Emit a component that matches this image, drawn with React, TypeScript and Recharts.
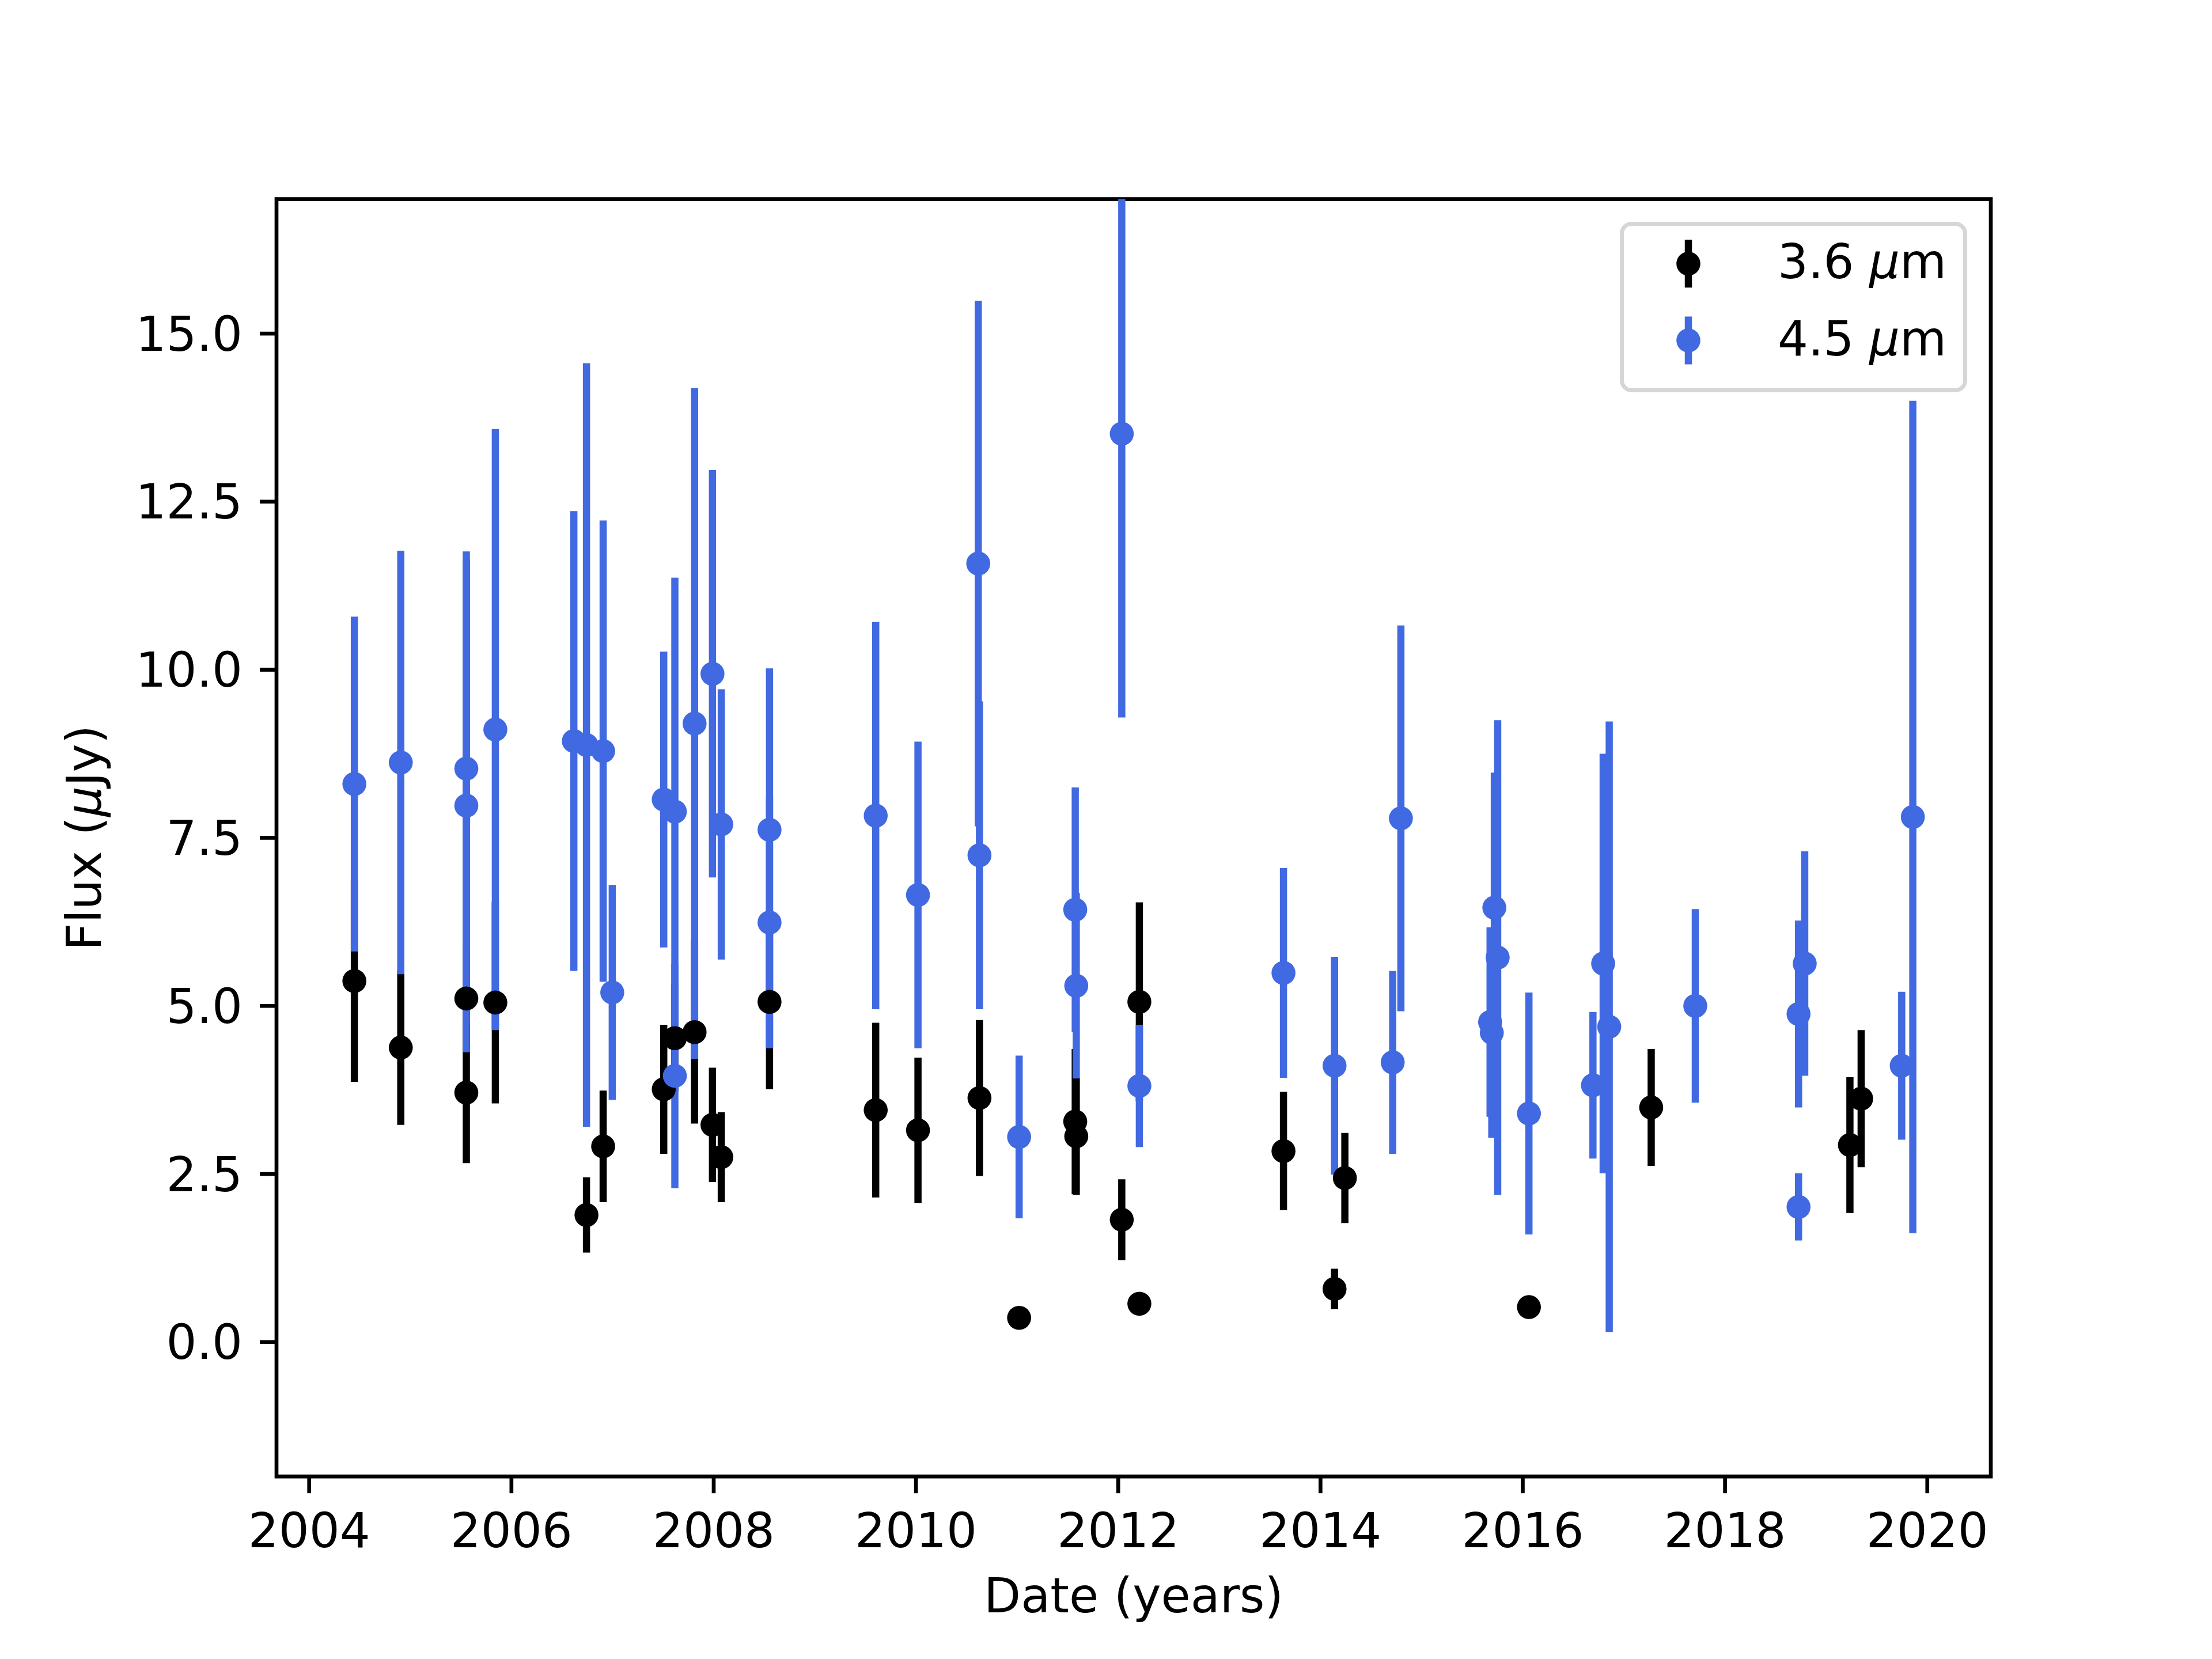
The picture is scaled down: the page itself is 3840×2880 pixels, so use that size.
import { ScatterChart, Scatter, XAxis, YAxis, ErrorBar, Legend, ReferenceArea } from "recharts"

// IRAC 3.6 um photometry (decimal year, flux in uJy, 1-sigma error)
const band1Dates = [
  2004.447, 2004.906, 2005.554, 2005.554, 2005.841, 2006.742, 2006.907, 2007.506, 2007.616, 2007.811,
  2007.988, 2008.075, 2008.552, 2009.602, 2010.02, 2010.628, 2011.02, 2011.575, 2011.585, 2012.035,
  2012.209, 2012.209, 2013.634, 2014.139, 2014.241, 2016.061, 2017.27, 2019.235, 2019.346,
]
const band1Flux = [
  5.37, 4.38, 5.11, 3.71, 5.05, 1.89, 2.91, 3.76, 4.52, 4.61,
  3.23, 2.75, 5.06, 3.45, 3.15, 3.63, 0.36, 3.28, 3.06, 1.82,
  5.06, 0.57, 2.84, 0.79, 2.44, 0.52, 3.49, 2.93, 3.62,
]
const band1Err = [
  1.5, 1.15, 0.75, 1.05, 1.5, 0.56, 0.83, 0.96, 0.8, 1.36,
  0.85, 0.67, 1.3, 1.3, 1.08, 1.16, 0.05, 1.08, 0.87, 0.6,
  1.48, 0.1, 0.88, 0.3, 0.67, 0.05, 0.87, 1.01, 1.02,
]

// IRAC 4.5 um photometry
const band2Dates = [
  2004.447, 2004.906, 2005.554, 2005.554, 2005.841, 2006.617, 2006.742, 2006.907, 2006.997, 2007.506,
  2007.616, 2007.616, 2007.811, 2007.988, 2008.075, 2008.552, 2008.552, 2009.602, 2010.02, 2010.616,
  2010.628, 2011.02, 2011.575, 2011.585, 2012.035, 2012.209, 2013.634, 2014.139, 2014.714, 2014.795,
  2015.677, 2015.694, 2015.719, 2015.752, 2016.061, 2016.694, 2016.795, 2016.855, 2017.706, 2018.727,
  2018.727, 2018.788, 2019.747, 2019.857,
]
const band2Flux = [
  8.3, 8.62, 8.53, 7.98, 9.11, 8.94, 8.88, 8.79, 5.2, 8.07,
  7.89, 3.96, 9.2, 9.94, 7.7, 7.62, 6.24, 7.83, 6.65, 11.58,
  7.24, 3.05, 6.43, 5.3, 13.51, 3.81, 5.49, 4.11, 4.16, 7.79,
  4.76, 4.6, 6.46, 5.72, 3.4, 3.82, 5.63, 4.69, 5.0, 4.88,
  2.01, 5.63, 4.11, 7.81,
]
const band2Err = [
  2.49, 3.15, 3.23, 3.67, 4.47, 3.42, 5.68, 3.43, 1.6, 2.2,
  3.48, 1.67, 4.99, 3.03, 2.01, 2.4, 1.87, 2.88, 2.28, 3.91,
  2.29, 1.21, 1.82, 1.38, 4.22, 0.91, 1.56, 1.62, 1.36, 2.87,
  1.41, 1.56, 2.01, 3.53, 1.8, 1.09, 3.12, 4.54, 1.44, 1.39,
  0.5, 1.67, 1.1, 6.19,
]

const xTicks = [2004, 2006, 2008, 2010, 2012, 2014, 2016, 2018, 2020]
const yTicks = [0, 2.5, 5, 7.5, 10, 12.5, 15]
const xDomain: [number, number] = [2003.677, 2020.628]
const yDomain: [number, number] = [-2, 17]

const BLACK = "#000000"
const BLUE = "#4169e1"
const FONT = "DejaVu Sans"
const FONT_SIZE = 83.33
const LINE = 6.67

interface Point {
  date: number
  flux: number
  err: number
}

function toPoints(dates: number[], flux: number[], err: number[]): Point[] {
  return dates.map((d, i) => ({ date: d, flux: flux[i], err: err[i] }))
}

const band1 = toPoints(band1Dates, band1Flux, band1Err)
const band2 = toPoints(band2Dates, band2Flux, band2Err)

// error bars are not clipped by the plot area, so stop them at the axes edges
const clippedErr = (p: Point) => [
  Math.min(p.err, p.flux - yDomain[0]),
  Math.min(p.err, yDomain[1] - p.flux),
]

const dot = (color: string) => (props: any) =>
  <circle cx={props.cx} cy={props.cy} r={20.8} fill={color} />

const noDot = () => <g />

const legendItems = [
  { label: "3.6", color: BLACK },
  { label: "4.5", color: BLUE },
]

function renderLegend() {
  return (
    <svg width={603} height={296} style={{ display: "block" }}>
      <rect x={3.5} y={3.5} width={596} height={289} rx={17}
        fill="rgba(255,255,255,0.8)" stroke="#d6d6d6" strokeWidth={7} />
      {legendItems.map((item, i) => {
        const cy = 72.7 + i * 133.3
        return (
          <g key={item.label}>
            <line x1={119} x2={119} y1={cy - 41.5} y2={cy + 41.5} stroke={item.color} strokeWidth={12.5} />
            <circle cx={119} cy={cy} r={20.8} fill={item.color} />
            <text x={274} y={cy + 25.6} fontFamily={FONT} fontSize={FONT_SIZE} fill="#000">
              {item.label} <tspan fontStyle="italic">μ</tspan>m
            </text>
          </g>
        )
      })}
    </svg>
  )
}

const xLabel = (props: any) => {
  const vb = props.viewBox
  return (
    <text x={vb.x + vb.width / 2} y={vb.y + 235.8} textAnchor="middle"
      fontFamily={FONT} fontSize={FONT_SIZE} fill="#000">
      Date (years)
    </text>
  )
}

const yLabel = (props: any) => {
  const vb = props.viewBox
  const x = vb.x + vb.width - 305
  const y = vb.y + vb.height / 2
  return (
    <text x={x} y={y} transform={`rotate(-90 ${x} ${y})`} textAnchor="middle"
      fontFamily={FONT} fontSize={FONT_SIZE} fill="#000">
      Flux (<tspan fontStyle="italic">μ</tspan>Jy)
    </text>
  )
}

const tickStyle = { fontSize: FONT_SIZE, fill: "#000", fontFamily: FONT }

export default function App() {
  return (
    <div style={{ position: "absolute", left: 0, top: 0, width: 3840, height: 2880, background: "#fff" }}>
      <ScatterChart
        width={3840}
        height={2880}
        margin={{ top: 345.7, right: 384, bottom: 16.8, left: 80 }}
        style={{ fontFamily: FONT }}
      >
        <XAxis
          type="number"
          dataKey="date"
          domain={xDomain}
          allowDataOverflow
          ticks={xTicks}
          interval={0}
          height={300}
          axisLine={false}
          tickSize={29}
          tickMargin={35}
          tickLine={{ stroke: "#000", strokeWidth: LINE }}
          tick={tickStyle}
          label={{ content: xLabel }}
        />
        <YAxis
          type="number"
          dataKey="flux"
          domain={yDomain}
          allowDataOverflow
          ticks={yTicks}
          interval={0}
          width={400}
          axisLine={false}
          tickSize={29}
          tickMargin={30}
          tickLine={{ stroke: "#000", strokeWidth: LINE }}
          tick={tickStyle}
          tickFormatter={(v: number) => v.toFixed(1)}
          label={{ content: yLabel }}
        />
        {/* error bars first (matplotlib draws all bars beneath the markers) */}
        <Scatter data={band1} shape={noDot} isAnimationActive={false} legendType="none">
          <ErrorBar dataKey={clippedErr} direction="y" width={0} stroke={BLACK} strokeWidth={12.5} isAnimationActive={false} />
        </Scatter>
        <Scatter data={band2} shape={noDot} isAnimationActive={false} legendType="none">
          <ErrorBar dataKey={clippedErr} direction="y" width={0} stroke={BLUE} strokeWidth={12.5} isAnimationActive={false} />
        </Scatter>
        <Scatter data={band1} shape={dot(BLACK)} isAnimationActive={false} />
        <Scatter data={band2} shape={dot(BLUE)} isAnimationActive={false} />
        {/* axes frame */}
        <ReferenceArea
          x1={xDomain[0]}
          x2={xDomain[1]}
          y1={yDomain[0]}
          y2={yDomain[1]}
          fill="none"
          fillOpacity={0}
          stroke="#000"
          strokeWidth={LINE}
          strokeOpacity={1}
        />
        <Legend
          layout="vertical"
          align="center"
          verticalAlign="middle"
          content={renderLegend}
          wrapperStyle={{ left: 2812, top: 385, width: 603, height: 296 }}
        />
      </ScatterChart>
    </div>
  )
}
